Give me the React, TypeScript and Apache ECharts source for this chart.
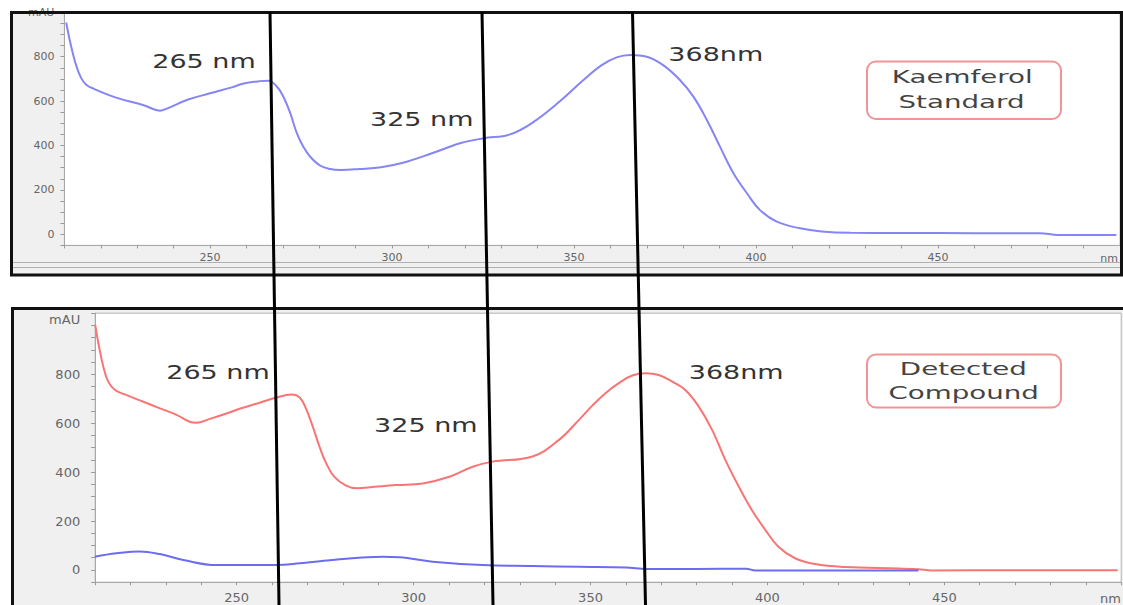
import React, { useEffect, useRef } from 'react';
import * as echarts from 'echarts';

// Kaempferol standard spectrum (top panel)
const stdNm = [210.5, 211.5, 213, 214.5, 216, 218, 224, 232, 236.3, 238, 244, 250, 256, 259, 263.7, 266, 268.3, 270.1, 272, 273.8, 275.6, 277.5, 280.2, 283, 286, 291, 297, 303, 311, 318.7, 325, 332.4, 338.8, 346.2, 352.6, 357.6, 361.7, 365.4, 370, 374.5, 379.1, 382.8, 386.5, 390.1, 393.8, 397.5, 401.1, 405.7, 412.1, 418, 426, 440, 460, 478, 483, 499];
const stdAbs = [954, 872, 773, 707, 674, 656, 617, 580, 557, 565, 607, 635, 662, 678, 690, 692, 667, 622, 548, 458, 395, 350, 310, 294, 290, 294, 302, 322, 365, 410, 432, 450, 505, 600, 695, 762, 797, 808, 800, 762, 695, 620, 515, 395, 275, 185, 109, 57, 27, 13, 7, 6, 5, 5, -3, -3];

// Detected compound spectrum (bottom panel, red)
const cmpNm = [210, 210.9, 212.3, 213.7, 215.6, 218.9, 223.6, 228.3, 233, 236.7, 238.6, 242.4, 247.1, 251, 256.5, 261, 265.5, 267.8, 269.7, 271.5, 273.4, 275.3, 277.6, 280.9, 284, 289, 295, 302.6, 310.1, 316.7, 322.3, 333.6, 341.1, 346.8, 350.5, 354.3, 358, 361.8, 365.6, 369.3, 373.1, 376.8, 380.6, 384.4, 388.1, 391.9, 395.6, 399.4, 403.1, 407.8, 413.5, 422, 437, 442.7, 446.4, 470, 499];
const cmpAbs = [1002, 927, 831, 770, 736, 715, 688, 661, 634, 606, 602, 618, 640, 660, 684, 704, 718, 705, 656, 586, 504, 436, 381, 345, 334, 340, 347, 354, 381, 422, 443, 464, 532, 615, 672, 724, 764, 795, 804, 797, 770, 736, 668, 572, 450, 341, 245, 164, 95, 48, 24, 12, 6, 3, -2, -1, -1];

// Blank / baseline trace (bottom panel, blue)
const blankNm = [209.9, 216, 222.6, 228.3, 234.9, 244.3, 261.2, 267.8, 279.1, 291.3, 296, 305.4, 319.5, 333.6, 346.8, 360, 366, 380, 394, 396.6, 442.7];
const blankAbs = [54, 68, 76, 65, 41, 20, 20, 27, 44, 54, 52, 34, 20, 16, 13, 10, 4, 4, 5, -2, -2];

const xTickLabels = [250, 300, 350, 400, 450];
const yTickLabels = [0, 200, 400, 600, 800];
const xUnit = 'nm';
const yUnit = 'mAU';
const peakLabels = ['265 nm', '325 nm', '368nm'];
const topBoxLines = ['Kaemferol', 'Standard'];
const bottomBoxLines = ['Detected', 'Compound'];

const FONT = '"DejaVu Sans", sans-serif';

function pairs(xs: number[], ys: number[]) {
  return xs.map((x, i) => [x, ys[i]]);
}

function makeX(gridIndex: number, fontSize: number, margin: number) {
  return {
    gridIndex,
    type: 'value',
    min: 210,
    max: 500,
    interval: 10,
    axisLine: { show: true, onZero: false, lineStyle: { color: '#a8a8a8', width: 1 } },
    axisTick: { show: true, length: 3, lineStyle: { color: '#999' } },
    axisLabel: {
      customValues: xTickLabels,
      fontSize,
      margin,
      color: '#666',
      fontFamily: FONT,
    },
    splitLine: { show: false },
  };
}

function makeY(gridIndex: number, max: number, unitAt: number, fontSize: number, margin: number) {
  return {
    gridIndex,
    type: 'value',
    min: -50,
    max,
    interval: 50,
    axisLine: { show: true, onZero: false, lineStyle: { color: '#a8a8a8', width: 1 } },
    axisTick: { show: true, length: 4, lineStyle: { color: '#999' } },
    axisLabel: {
      customValues: [...yTickLabels, unitAt],
      formatter: (v: number) => (v === unitAt ? yUnit : String(v)),
      fontSize,
      margin,
      color: '#666',
      fontFamily: FONT,
    },
    splitLine: { show: false },
  };
}

function txt(text: string, x: number, y: number, size: number, sx: number, color: string, align = 'center') {
  return {
    type: 'text',
    x,
    y,
    scaleX: sx,
    z: 80,
    style: {
      text,
      font: `${size}px ${FONT}`,
      fill: color,
      textAlign: align,
      textVerticalAlign: 'middle',
      align,
      verticalAlign: 'middle',
    },
  };
}

function vline(x1: number, x2: number) {
  return {
    type: 'line',
    z: 70,
    shape: { x1, y1: 12, x2, y2: 605 },
    style: { stroke: '#000', lineWidth: 3 },
  };
}

export default function App() {
  const ref = useRef<HTMLDivElement>(null);
  useEffect(() => {
    if (!ref.current) return;
    const chart = echarts.init(ref.current, undefined, { renderer: 'svg' });
    const option: any = {
      animation: false,
      backgroundColor: '#fff',
      grid: [
        { left: 64.4, top: 12.3, width: 1055.6, height: 233.1, show: true, backgroundColor: '#fff', borderColor: '#b4b4b4', borderWidth: 1, containLabel: false, outerBoundsMode: 'none' },
        { left: 95.2, top: 313.2, width: 1026, height: 269, show: true, backgroundColor: '#fff', borderColor: '#b4b4b4', borderWidth: 1, containLabel: false, outerBoundsMode: 'none' },
      ],
      xAxis: [makeX(0, 11, 7), makeX(1, 13, 9)],
      yAxis: [makeY(0, 1000, 1000, 11, 10), makeY(1, 1050, 1025, 13, 15)],
      series: [
        {
          type: 'line', xAxisIndex: 0, yAxisIndex: 0, data: pairs(stdNm, stdAbs),
          showSymbol: false, smooth: 0.4, lineStyle: { color: '#8585f5', width: 2 }, z: 3,
        },
        {
          type: 'line', xAxisIndex: 1, yAxisIndex: 1, data: pairs(cmpNm, cmpAbs),
          showSymbol: false, smooth: 0.4, lineStyle: { color: '#f97474', width: 2 }, z: 3,
        },
        {
          type: 'line', xAxisIndex: 1, yAxisIndex: 1, data: pairs(blankNm, blankAbs),
          showSymbol: false, smooth: 0.4, lineStyle: { color: '#6c6cf0', width: 2 }, z: 4,
        },
      ],
      graphic: [
        // panel backgrounds
        { type: 'rect', z: -10, shape: { x: 11.5, y: 12.5, width: 1110, height: 262.5 }, style: { fill: '#f0f0f0' } },
        { type: 'rect', z: -10, shape: { x: 12, y: 308, width: 1111, height: 297 }, style: { fill: '#f0f0f0' } },
        // scroll bar lines in top panel
        { type: 'line', z: 20, shape: { x1: 13, y1: 262.5, x2: 1120, y2: 262.5 }, style: { stroke: '#b0b0b0', lineWidth: 1 } },
        { type: 'line', z: 20, shape: { x1: 13, y1: 267.5, x2: 1120, y2: 267.5 }, style: { stroke: '#b0b0b0', lineWidth: 1 } },
        // frames
        { type: 'rect', z: 60, shape: { x: 11.5, y: 12.5, width: 1110, height: 262.5 }, style: { fill: 'none', stroke: '#111', lineWidth: 3 } },
        { type: 'line', z: 60, shape: { x1: 11, y1: 308.5, x2: 1123, y2: 308.5 }, style: { stroke: '#111', lineWidth: 3 } },
        { type: 'line', z: 60, shape: { x1: 12.5, y1: 307, x2: 12.5, y2: 605 }, style: { stroke: '#111', lineWidth: 3 } },
        // axis unit labels (x)
        txt(xUnit, 1118, 258, 11, 1, '#666', 'right'),
        txt(xUnit, 1121, 598, 13, 1, '#666', 'right'),
        // vertical marker lines
        vline(270, 279),
        vline(482, 493),
        vline(632.5, 645.5),
        // peak labels
        txt(peakLabels[0], 204, 61, 20, 1.35, '#333'),
        txt(peakLabels[1], 421.7, 119, 20, 1.35, '#333'),
        txt(peakLabels[2], 715.8, 54, 20, 1.35, '#333'),
        txt(peakLabels[0], 218, 372, 20, 1.35, '#333'),
        txt(peakLabels[1], 425.8, 425.5, 20, 1.35, '#333'),
        txt(peakLabels[2], 736.2, 372, 20, 1.35, '#333'),
        // boxes
        { type: 'rect', z: 75, shape: { x: 867, y: 61.5, width: 194, height: 57.5, r: 9 }, style: { fill: '#fff', stroke: '#f29494', lineWidth: 2 } },
        { type: 'rect', z: 75, shape: { x: 867, y: 354.5, width: 194, height: 53, r: 9 }, style: { fill: '#fff', stroke: '#f29494', lineWidth: 2 } },
        txt(topBoxLines[0], 962.2, 77.5, 17, 1.63, '#444'),
        txt(topBoxLines[1], 961.5, 102, 17, 1.63, '#444'),
        txt(bottomBoxLines[0], 963.3, 369, 17, 1.63, '#444'),
        txt(bottomBoxLines[1], 963.7, 393, 17, 1.63, '#444'),
      ],
    };
    chart.setOption(option);
    return () => chart.dispose();
  }, []);
  return <div ref={ref} style={{ position: 'absolute', left: 0, top: 0, width: 1123, height: 605 }} />;
}
